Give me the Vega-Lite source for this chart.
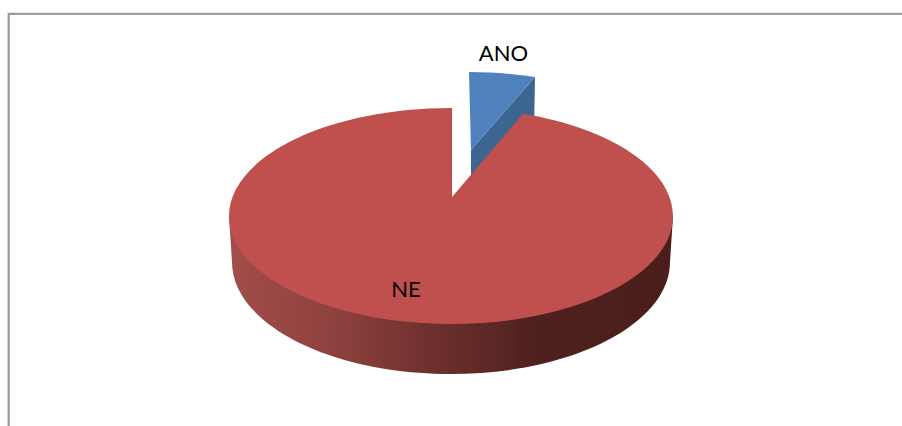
{
  "$schema": "https://vega.github.io/schema/vega-lite/v6.json",
  "width": 902,
  "height": 426,
  "padding": 0,
  "autosize": "none",
  "background": "white",
  "config": {"view": {"stroke": null}},
  "data": {"values": [
    {"category": "ANO", "share": 6},
    {"category": "NE", "share": 94}
  ]},
  "layer": [
    {
      "transform": [{"filter": "datum.category === 'NE'"}],
      "mark": {"type": "point", "size": 4, "filled": false, "opacity": 1, "color": "#9c9c9c", "strokeWidth": 2.2,
        "shape": "M-442.3,213 L-442.3,-199.2 L451,-199.2"},
      "encoding": {}
    },
    {
      "transform": [{"filter": "datum.category === 'ANO'"}],
      "mark": {"type": "point", "size": 4, "filled": true, "opacity": 1, "color": "#3c6591",
        "shape": "M20,-63 L84,-136 L83,-83 L20,-23 Z"},
      "encoding": {}
    },
    {
      "transform": [{"filter": "datum.category === 'ANO'"}],
      "mark": {"type": "point", "size": 4, "filled": true, "opacity": 1, "color": "#4f81bd",
        "shape": "M18,-141 A222,108 0 0 1 84,-136 L20,-63 Z"},
      "encoding": {}
    },
    {
      "transform": [{"filter": "datum.category === 'NE'"}],
      "mark": {"type": "point", "size": 4, "filled": true, "opacity": 1,
        "color": {"gradient": "linear", "x1": 0, "y1": 0, "x2": 1, "y2": 0, "stops": [
          {"offset": 0, "color": "#a34e4b"},
          {"offset": 0.25, "color": "#8c403d"},
          {"offset": 0.5, "color": "#682d2b"},
          {"offset": 0.7, "color": "#4e201e"},
          {"offset": 1, "color": "#4b1e1c"}
        ]},
        "shape": "M-222,3 L-219,49 A219,112 0 0 0 219,49 L222,3 Z"},
      "encoding": {}
    },
    {
      "transform": [{"filter": "datum.category === 'NE'"}],
      "mark": {"type": "point", "size": 4, "filled": true, "opacity": 1, "color": "#c0504d",
        "shape": "M1,-16 L1,-105 A222,108 0 0 0 -222,3 A222,108 0 0 0 222,3 A222,108 0 0 0 72,-99.2 Z"},
      "encoding": {}
    },
    {
      "transform": [{"filter": "datum.category === 'ANO'"}],
      "mark": {"type": "text", "font": "Lato", "fontSize": 22, "color": "#000000", "align": "center", "baseline": "middle", "dx": 52.5, "dy": -159},
      "encoding": {"text": {"field": "category", "type": "nominal"}}
    },
    {
      "transform": [{"filter": "datum.category === 'NE'"}],
      "mark": {"type": "text", "font": "Lato", "fontSize": 22, "color": "#000000", "align": "center", "baseline": "middle", "dx": -45, "dy": 77},
      "encoding": {"text": {"field": "category", "type": "nominal"}}
    }
  ]
}
